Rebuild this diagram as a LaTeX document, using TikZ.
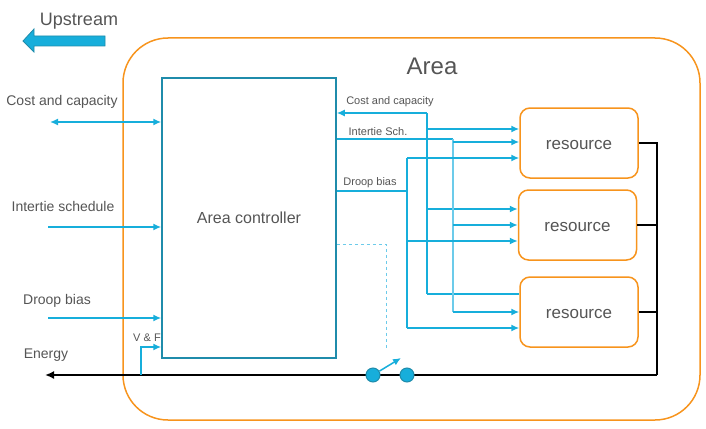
\documentclass[tikz,border=0pt]{standalone}
\usepackage{fontspec}
\setmainfont{Liberation Sans}
\usetikzlibrary{arrows.meta}
\definecolor{linkblue}{HTML}{17AEDB}
\definecolor{linklight}{HTML}{6CCBEA}
\definecolor{ctrlteal}{HTML}{1F8CAB}
\definecolor{areaorange}{HTML}{F7941D}
\definecolor{labelgray}{HTML}{555555}
\begin{document}
\begin{tikzpicture}[x=1pt, y=-1pt,
            every node/.style = {text=labelgray, inner sep=1pt},
            link/.style = {draw=linkblue, line width=1.5pt,
                           -{Latex[length=8pt,width=7pt]}},
            energy/.style = {draw=black, line width=1.7pt},
            resource/.style = {shape=rectangle, draw=areaorange, line width=1.5pt,
                               rounded corners=10pt, minimum width=118pt,
                               minimum height=70pt, text height=13pt, text depth=0pt,
                               font=\fontsize{17}{19}\selectfont},
            switch/.style = {shape=circle, draw=ctrlteal, fill=linkblue,
                             line width=1pt, minimum size=14pt, inner sep=0pt},
            small/.style = {font=\fontsize{11}{13}\selectfont},
            side/.style = {font=\fontsize{14}{16}\selectfont}]
\useasboundingbox (0,0) rectangle (706,428);
% upstream arrow
\draw[draw=ctrlteal, fill=linkblue, line width=0.8pt]
    (105,36) -- (34,36) -- (34,29) -- (23,41) -- (34,52) -- (34,46) -- (105,46) -- cycle;
\node[font=\fontsize{18}{20}\selectfont] (upstream) at (79,21) {Upstream};
% area and its parts
\node[draw=areaorange, line width=1.5pt, rounded corners=45pt,
      minimum width=577pt, minimum height=382pt] (area) at (411.5,229) {};
\node[font=\fontsize{24}{26}\selectfont] (arealabel) at (432,66) {Area};
\node[draw=ctrlteal, line width=1.5pt, minimum width=174pt, minimum height=280pt,
      font=\fontsize{16}{18}\selectfont] (ctrl) at (249,218) {Area controller};
\node[resource] (res1) at (579,143) {resource};
\node[resource] (res2) at (577.5,225) {resource};
\node[resource] (res3) at (579,312) {resource};
% upstream signals
\coordinate (ccin) at (50,122);
\coordinate (itin) at (48,227);
\coordinate (dbin) at (48,318);
\draw[link, {Latex[length=8pt,width=7pt]}-{Latex[length=8pt,width=7pt]}]
    (ccin) -- (ctrl.west |- ccin);
\draw[link] (itin) -- (ctrl.west |- itin);
\draw[link] (dbin) -- (ctrl.west |- dbin);
\node[side] (cclabel) at (62,102) {Cost and capacity};
\node[side] (itlabel) at (63,206) {Intertie schedule};
\node[side] (dblabel) at (57,301) {Droop bias};
% cost and capacity bus
\coordinate (ccbus) at (427,113);
\draw[link] (ccbus) -- (ctrl.east |- ccbus);
\draw[link, -] (ccbus) -- (427,294);
\draw[link] (427,129) -- (res1.west |- 0,129);
\draw[link] (427,209) -- (res2.west |- 0,209);
\draw[link, -] (427,294) -- (res3.west |- 0,294);
\node[small] (ccsig) at (390,102) {Cost and capacity};
% intertie bus
\coordinate (itbus) at (453,139);
\draw[link, -] (ctrl.east |- itbus) -- (itbus);
\draw[link, draw=linklight, -] (itbus) -- (453,312);
\draw[link] (453,142) -- (res1.west |- 0,142);
\draw[link] (453,225) -- (res2.west |- 0,225);
\draw[link] (453,312) -- (res3.west |- 0,312);
\node[small] (itsig) at (378,132) {Intertie Sch.};
% droop bus
\coordinate (dbbus) at (407,191);
\draw[link, -] (ctrl.east |- dbbus) -- (dbbus);
\draw[link, -] (407,158) -- (407,328);
\draw[link] (407,158) -- (res1.west |- 0,158);
\draw[link] (407,241) -- (res2.west |- 0,241);
\draw[link] (407,328) -- (res3.west |- 0,328);
\node[small] (dbsig) at (370,183) {Droop bias};
% switch command
\draw[draw=linklight, line width=1pt, dashed] (ctrl.east |- 0,244) -| (386,350);
% energy
\coordinate (bus) at (657,375);
\coordinate (gridend) at (45,375);
\draw[energy] (res1.east) -| (bus);
\draw[energy] (res2.east) -- (res2.east -| bus);
\draw[energy] (res3.east) -- (res3.east -| bus);
\draw[energy, -{Latex[length=9pt,width=8pt]}] (bus) -- (gridend);
\node[side] (energylabel) at (46,355) {Energy};
\node[switch] (swa) at (373,375) {};
\node[switch] (swb) at (407,375) {};
\coordinate (swtip) at (401,358);
\draw[link] (swa) -- (swtip);
% voltage and frequency
\coordinate (vfin) at (141,375);
\draw[link] (vfin) |- (ctrl.west |- 0,347);
\node[small] (vflabel) at (147,338) {V \& F};
\end{tikzpicture}
\end{document}
